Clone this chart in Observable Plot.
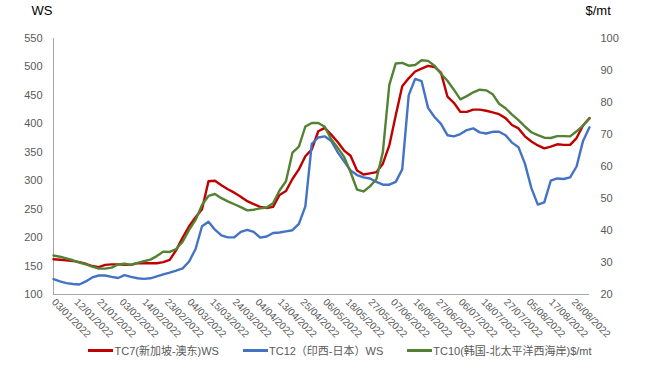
<!DOCTYPE html>
<html><head><meta charset="utf-8">
<script src="https://cdn.jsdelivr.net/npm/d3@7"></script>
<script src="https://cdn.jsdelivr.net/npm/@observablehq/plot@0.6"></script>
<style>
body{margin:0;background:#fff;font-family:"Liberation Sans","Noto Sans CJK SC",sans-serif;}
#chart svg{display:block;}
#legend{height:16px;display:flex;align-items:center;justify-content:center;padding-left:30px;gap:24px;font-size:11px;color:#595959;font-family:"Liberation Sans","Noto Sans CJK SC",sans-serif;}
.item{display:flex;align-items:center;}
.sw{width:25px;height:3px;margin-right:1px;}
</style></head><body>
<div id="chart"></div>
<div id="legend"></div>
<script>
// Category tick labels (every 7th trading day)
const tickLabels = ["03/01/2022","12/01/2022","21/01/2022","03/02/2022","14/02/2022","23/02/2022","04/03/2022","15/03/2022","24/03/2022","04/04/2022","13/04/2022","25/04/2022","06/05/2022","18/05/2022","27/05/2022","07/06/2022","16/06/2022","27/06/2022","06/07/2022","18/07/2022","27/07/2022","05/08/2022","17/08/2022","26/08/2022"];
const tickStep = 7;      // categories between labels
const sampleStep = 2;    // values below are read every 2nd category
const lastIndex = 166;

// TC7 (WS), left axis
const tc7 = [162,161,160,159,157,154,150,148,152,153,
  153,152,152,155,155,155,155,157,161,178,
  200,220,236,250,299,300,292,285,279,272,
  264,259,254,252,254,275,282,303,320,343,
  355,387,393,381,368,353,344,318,311,313,
  315,330,362,415,466,480,492,497,502,500,
  490,448,437,421,421,425,425,423,420,417,
  410,398,392,378,369,362,357,360,364,363,
  363,375,397,410];
// TC12 (WS), left axis
const tc12 = [127,123,120,118.5,117.5,123,130,133.4,133.4,131,
  129,134,131,128.5,127.5,128.5,132,135.5,138.5,142,
  146,158,180,220,228,214,204,200.5,200.7,210,
  213.5,210,200,202,208,209,211,213,224,255,
  365,376,378,370,350,334,318,310,306,304,
  298,293,293,298,320,450,479,475,428,412,
  400,380,378,382,389,392,385,383,386,386,
  380,367,359,330,287,258,262,300,304,303,
  306,325,370,394];
// TC10 ($/mt), right axis
const tc10 = [32.2,31.8,31.3,30.7,30.0,29.4,28.7,28.1,28.1,28.4,
  29.4,29.6,29.3,29.9,30.4,30.9,32.0,33.4,33.3,34.2,
  36.5,40.2,43.3,48.0,50.8,51.4,50.1,49.1,48.2,47.3,
  46.3,46.5,46.9,47.2,48.5,52.5,55.4,64.3,66.2,72.5,
  73.6,73.6,72.4,68.5,65.9,63.0,58.2,52.8,52.2,53.8,
  56.0,64.5,85.5,92.2,92.4,91.5,91.7,93.2,93.0,91.5,
  89.0,86.8,84.0,81.0,82.0,83.2,84.0,83.8,82.6,79.6,
  78.2,76.2,74.5,72.5,70.7,69.8,69.0,68.9,69.5,69.5,
  69.4,71.0,72.8,75.0];

const leftTicks = [100,150,200,250,300,350,400,450,500,550];
const rightTicks = [20,30,40,50,60,70,80,90,100];
const seriesNames = ["TC7(新加坡-澳东)WS","TC12（印西-日本）WS","TC10(韩国-北太平洋西海岸)$/mt"];
const colors = ["#c00000","#4472c4","#548235"];

// right axis mapping onto left scale
const L0 = 100, L1 = 550, R0 = 20, R1 = 100;
const toLeft = v => L0 + (v - R0) * (L1 - L0) / (R1 - R0);
const fromLeft = v => R0 + (v - L0) * (R1 - R0) / (L1 - L0);

const rows = [];
tc7.forEach((v,k)=>rows.push({i:k*sampleStep, y:v, s:seriesNames[0]}));
tc12.forEach((v,k)=>rows.push({i:k*sampleStep, y:v, s:seriesNames[1]}));
tc10.forEach((v,k)=>rows.push({i:k*sampleStep, y:toLeft(v), s:seriesNames[2]}));

const xTicks = tickLabels.map((_,j)=>j*tickStep);

const chart = Plot.plot({
  width:650, height:342,
  marginLeft:53, marginRight:61, marginTop:38, marginBottom:48,
  style:{fontFamily:"'Liberation Sans','Noto Sans CJK SC',sans-serif", color:"#595959", background:"#fff"},
  x:{domain:[0,lastIndex]},
  y:{domain:[L0,L1]},
  color:{domain:seriesNames, range:colors},
  marks:[
    Plot.ruleY([L0],{stroke:"#a6a6a6", strokeWidth:1}),
    Plot.ruleX([0],{stroke:"#a6a6a6", strokeWidth:1}),
    Plot.axisY(leftTicks,{anchor:"left", tickSize:0, tickPadding:11, fontSize:11, label:null}),
    Plot.axisY(rightTicks.map(toLeft),{anchor:"right", tickSize:0, tickPadding:11, fontSize:11, label:null, tickFormat:d=>String(Math.round(fromLeft(d)))}),
    Plot.axisX(xTicks,{anchor:"bottom", tickSize:0, tickPadding:6, tickRotate:45, fontSize:10, label:null, tickFormat:i=>tickLabels[i/tickStep]}),
    Plot.line(rows,{x:"i", y:"y", z:"s", stroke:"s", strokeWidth:2.4, strokeLinejoin:"round"}),
    Plot.text(["WS"],{frameAnchor:"top-left", dx:-22, dy:-33, fontSize:13, fill:"#000", textAnchor:"start", lineAnchor:"top"}),
    Plot.text(["$/mt"],{frameAnchor:"top-right", dx:-4, dy:-33, fontSize:13, fill:"#000", textAnchor:"start", lineAnchor:"top"})
  ]
});
document.getElementById("chart").appendChild(chart);

const leg = document.getElementById("legend");
seriesNames.forEach((n,k)=>{
  const it = document.createElement("div"); it.className="item";
  const sw = document.createElement("span"); sw.className="sw"; sw.style.background=colors[k];
  const t = document.createElement("span"); t.textContent=n;
  it.appendChild(sw); it.appendChild(t); leg.appendChild(it);
});
</script>
</body></html>
